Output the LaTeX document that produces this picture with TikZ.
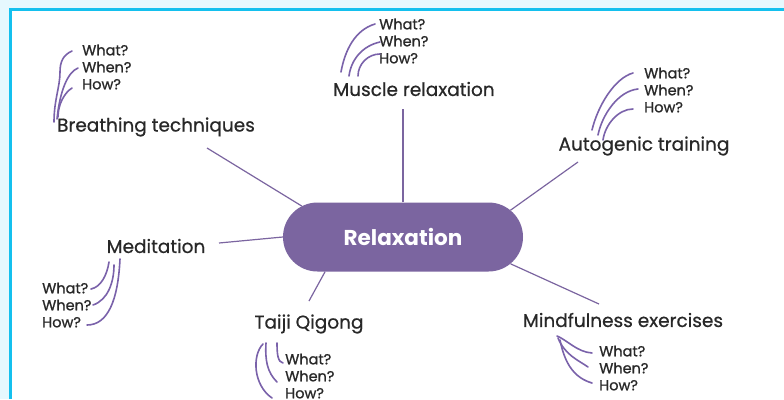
\documentclass[tikz,border=0pt]{standalone}
\usepackage{fontspec}
\setmainfont{Poppins}
\newfontfamily\topicfont{Poppins}[FakeBold=0.6]
\newfontfamily\qfont{Poppins}[FakeBold=1.0]
\usepackage{tikz}
\usetikzlibrary{shapes.misc,positioning}
\usepackage{xcolor}
\definecolor{primary}{RGB}{123,101,160}
\definecolor{ink}{RGB}{122,98,170}
\definecolor{frame}{RGB}{20,192,238}
\definecolor{framebg}{RGB}{230,248,254}
\definecolor{textgray}{RGB}{40,40,40}

\begin{document}
\begin{tikzpicture}[
    x=1pt, y=-1pt,
    hub/.style={rounded rectangle, fill=primary, text=white, minimum width=240pt,
               minimum height=69pt, font=\fontsize{21.5}{24}\selectfont\bfseries, inner sep=0pt},
    topic/.style={font=\topicfont\fontsize{18.5}{20}\selectfont, text=textgray, inner sep=0pt},
    qs/.style={font=\qfont\fontsize{14.5}{17}\selectfont, text=textgray, align=left,
               inner sep=0pt, anchor=west},
    link/.style={draw=primary, line width=1.2pt},
    hand/.style={draw=ink, line width=1.6pt, line cap=round}
  ]
    % frame
    \useasboundingbox (0,0) rectangle (784,399);
    \fill[white] (0,0) rectangle (784,399);
    \fill[framebg] (0,0) rectangle (784,8);
    \fill[framebg] (0,0) rectangle (9,399);
    \draw[frame, line width=3pt] (10.5,399) -- (10.5,9.5) -- (784,9.5);

    \node[hub] (relax) at (403, 237) {Relaxation};

    \node[topic] (breath) at (156, 127) {Breathing techniques};
    \node[topic] (muscle) at (414, 89) {Muscle relaxation};
    \node[topic] (autogen) at (644, 146) {Autogenic training};
    \node[topic] (medit) at (156, 246) {Meditation};
    \node[topic] (taiji) at (309, 324) {Taiji Qigong};
    \node[topic] (mindful) at (623, 320) {Mindfulness exercises};

    \draw[link] (relax.163) -- ([shift={(51,21)}]breath.center);
    \draw[link] (relax.north) -- ([shift={(-11,20)}]muscle.center);
    \draw[link] (relax.14) -- ([shift={(-66,16)}]autogen.center);
    \draw[link] (relax.west) -- ([shift={(63,-3)}]medit.center);
    \draw[link] (relax.204) -- ([shift={(0,-23)}]taiji.center);
    \draw[link] (relax.-14) -- ([shift={(-24,-16)}]mindful.center);

    \node[qs] (breathQ) at (82, 67) {What?\\When?\\How?};
    \node[qs] (muscleQ) at (379, 41) {What?\\When?\\How?};
    \node[qs] (autogenQ) at (644, 90) {What?\\When?\\How?};
    \node[qs] (meditQ) at (42, 305) {What?\\When?\\How?};
    \node[qs] (taijiQ) at (285, 376) {What?\\When?\\How?};
    \node[qs] (mindfulQ) at (599, 368) {What?\\When?\\How?};

    % hand drawn brackets
    \draw[hand] (72,51) .. controls (63,55) and (60,62) .. (60,72) .. controls (60,87) and (54,100) .. (54,122);
    \draw[hand] (78,68) .. controls (68,72) and (60,90) .. (57,119);
    \draw[hand] (72,88) .. controls (64,93) and (58,105) .. (58,117);

    \draw[hand] (375,24) .. controls (355,30) and (345,50) .. (341,72);
    \draw[hand] (380,42) .. controls (362,46) and (351,60) .. (349,76);
    \draw[hand] (380,54) .. controls (368,54) and (358,64) .. (358,76);

    \draw[hand] (633,73) .. controls (615,78) and (598,105) .. (592,130);
    \draw[hand] (638,89) .. controls (618,91) and (602,115) .. (598,135);
    \draw[hand] (633,109) .. controls (618,109) and (605,125) .. (603,140);

    \draw[hand] (91,289) .. controls (101,287) and (107,275) .. (109,262);
    \draw[hand] (93,305) .. controls (108,300) and (114,282) .. (114,265);
    \draw[hand] (87,325) .. controls (108,325) and (118,300) .. (120,259);

    \draw[hand] (277,343) .. controls (277,355) and (278,362) .. (283,363);
    \draw[hand] (266,343) .. controls (265,360) and (267,372) .. (277,382);
    \draw[hand] (263,344) .. controls (252,355) and (253,385) .. (272,398);

    \draw[hand] (557,336) .. controls (567,340) and (577,352) .. (592,353);
    \draw[hand] (558,338) .. controls (565,355) and (578,360) .. (588,367);
    \draw[hand] (560,340) .. controls (565,365) and (575,378) .. (592,383);
  \end{tikzpicture}
\end{document}
